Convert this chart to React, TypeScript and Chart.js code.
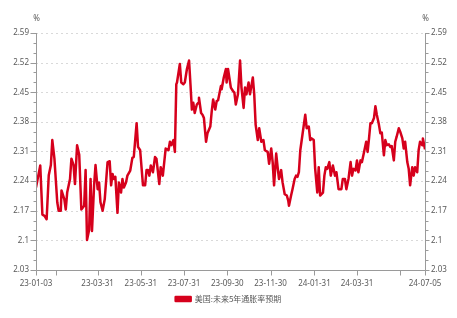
import React, { useEffect, useRef } from "react";
import { Chart, registerables } from "chart.js";
Chart.register(...registerables);

const seriesName = "美国:未来5年通胀率预期";
const unitLabel = "%";

const dates = [
  "23-01-03","23-01-09","23-01-12","23-01-15","23-01-18","23-01-21","23-01-24","23-01-26","23-01-29",
  "23-02-02","23-02-04","23-02-07","23-02-08","23-02-12","23-02-14","23-02-16","23-02-20","23-02-22","23-02-25","23-02-27",
  "23-03-02","23-03-05","23-03-08","23-03-12","23-03-14","23-03-16","23-03-19","23-03-21","23-03-23","23-03-26","23-03-28","23-03-31",
  "23-04-02","23-04-04","23-04-07","23-04-10","23-04-14","23-04-17","23-04-19","23-04-21","23-04-23","23-04-25","23-04-28","23-04-30",
  "23-05-03","23-05-05","23-05-07","23-05-10","23-05-12","23-05-16","23-05-19","23-05-21","23-05-25","23-05-27","23-05-30",
  "23-06-03","23-06-06","23-06-08","23-06-10","23-06-12","23-06-14","23-06-17","23-06-20","23-06-22","23-06-26","23-06-28",
  "23-07-01","23-07-05","23-07-09","23-07-11","23-07-13","23-07-16","23-07-18","23-07-20","23-07-21","23-07-25","23-07-27","23-07-30",
  "23-08-01","23-08-04","23-08-07","23-08-09","23-08-11","23-08-13","23-08-15","23-08-18","23-08-20","23-08-21","23-08-24","23-08-26","23-08-28","23-08-31",
  "23-09-02","23-09-06","23-09-08","23-09-10","23-09-13","23-09-15","23-09-17","23-09-21","23-09-22","23-09-25","23-09-28","23-09-29",
  "23-10-01","23-10-05","23-10-08","23-10-10","23-10-12","23-10-15","23-10-18","23-10-20","23-10-23","23-10-25","23-10-27","23-10-30",
  "23-11-01","23-11-05","23-11-07","23-11-09","23-11-12","23-11-14","23-11-17","23-11-20","23-11-22","23-11-26","23-11-28",
  "23-12-01","23-12-03","23-12-05","23-12-08","23-12-10","23-12-12","23-12-15","23-12-17","23-12-20","23-12-23","23-12-25","23-12-26","23-12-29","23-12-31",
  "24-01-03","24-01-05","24-01-07","24-01-09","24-01-11","24-01-14","24-01-18","24-01-20","24-01-23","24-01-25","24-01-27","24-01-30",
  "24-02-01","24-02-04","24-02-06","24-02-08","24-02-12","24-02-14","24-02-16","24-02-18","24-02-21","24-02-23","24-02-26","24-02-29",
  "24-03-02","24-03-05","24-03-09","24-03-11","24-03-14","24-03-16","24-03-19","24-03-22","24-03-24","24-03-26","24-03-29","24-03-31",
  "24-04-02","24-04-05","24-04-07","24-04-10","24-04-13","24-04-15","24-04-17","24-04-19","24-04-21","24-04-24","24-04-26","24-04-28",
  "24-05-01","24-05-03","24-05-05","24-05-08","24-05-10","24-05-12","24-05-15","24-05-17","24-05-19","24-05-22","24-05-24","24-05-26","24-05-29","24-05-31",
  "24-06-03","24-06-05","24-06-07","24-06-10","24-06-12","24-06-14","24-06-17","24-06-19","24-06-21","24-06-24","24-06-26","24-06-28",
  "24-07-01","24-07-02","24-07-05"
];

const values = [
  2.225,2.277,2.161,2.158,2.150,2.254,2.278,2.337,2.293,
  2.190,2.170,2.170,2.218,2.197,2.173,2.213,2.245,2.293,2.278,2.233,
  2.325,2.302,2.173,2.182,2.266,2.101,2.125,2.245,2.122,2.230,2.278,2.221,
  2.237,2.190,2.170,2.197,2.285,2.287,2.230,2.257,2.245,2.250,2.165,2.237,
  2.213,2.245,2.225,2.237,2.253,2.265,2.295,2.297,2.377,2.321,2.313,
  2.230,2.230,2.266,2.266,2.253,2.277,2.261,2.297,2.293,2.233,2.273,
  2.253,2.317,2.313,2.333,2.325,2.337,2.309,2.469,2.473,2.517,2.473,2.469,
  2.473,2.505,2.525,2.469,2.409,2.425,2.401,2.421,2.425,2.437,2.401,2.397,2.389,2.333,
  2.353,2.369,2.405,2.433,2.409,2.429,2.431,2.465,2.457,2.485,2.505,2.473,
  2.505,2.461,2.453,2.449,2.421,2.445,2.525,2.461,2.413,2.461,2.445,2.473,
  2.445,2.485,2.445,2.373,2.337,2.365,2.333,2.337,2.313,2.309,2.281,
  2.317,2.285,2.230,2.305,2.273,2.245,2.266,2.237,2.209,2.206,2.194,2.182,2.206,2.221,
  2.245,2.253,2.250,2.261,2.313,2.349,2.397,2.365,2.369,2.337,2.341,2.337,
  2.269,2.213,2.273,2.206,2.213,2.253,2.273,2.269,2.285,2.253,2.277,2.253,
  2.261,2.221,2.221,2.245,2.245,2.221,2.245,2.285,2.253,2.269,2.265,2.289,
  2.261,2.289,2.285,2.309,2.333,2.309,2.341,2.377,2.377,2.389,2.417,2.397,
  2.373,2.353,2.355,2.301,2.337,2.325,2.327,2.321,2.323,2.289,2.333,2.345,2.365,2.357,
  2.341,2.317,2.333,2.285,2.269,2.230,2.273,2.253,2.273,2.261,2.313,2.333,
  2.325,2.341,2.315
];

const xTickDates = ["23-01-03","23-01-31","23-03-31","23-05-31","23-07-31","23-09-30","23-11-30","24-01-31","24-03-31","24-05-31","24-07-05"];
const xTickShown = [true,false,true,true,true,true,true,true,true,false,true];
const yTicks = [2.03, 2.1, 2.17, 2.24, 2.31, 2.38, 2.45, 2.52, 2.59];
const yMinorSteps = 3;

const startDate = dates[0];
function toDay(s: string): number {
  const p = s.split("-").map(Number);
  const q = startDate.split("-").map(Number);
  return (Date.UTC(2000 + p[0], p[1] - 1, p[2]) - Date.UTC(2000 + q[0], q[1] - 1, q[2])) / 86400000;
}

const TEXT = "#595959";
const AXIS = "#9a9a9a";
const GRID = "#d9d9d9";
const LINE = "#d6001c";
const FONT = "'Noto Sans', 'Noto Sans CJK SC', sans-serif";

const decor = {
  id: "decor",
  beforeDatasetsDraw(chart: any) {
    const { ctx, chartArea } = chart;
    const y = chart.scales.y;
    ctx.save();
    ctx.strokeStyle = GRID;
    ctx.lineWidth = 1;
    ctx.setLineDash([2, 3]);
    yTicks.forEach((v, i) => {
      if (i === 0) return;
      const py = Math.round(y.getPixelForValue(v)) + 0.5;
      ctx.beginPath();
      ctx.moveTo(chartArea.left, py);
      ctx.lineTo(chartArea.right, py);
      ctx.stroke();
    });
    ctx.restore();
  },
  afterDatasetsDraw(chart: any) {
    const { ctx, chartArea } = chart;
    const y = chart.scales.y;
    const x = chart.scales.x;
    const L = Math.round(chartArea.left) + 0.5;
    const R = Math.round(chartArea.right) + 0.5;
    const B = Math.round(chartArea.bottom) + 0.5;
    ctx.save();
    ctx.strokeStyle = AXIS;
    ctx.lineWidth = 1;
    ctx.beginPath();
    ctx.moveTo(L, chartArea.top); ctx.lineTo(L, B);
    ctx.moveTo(R, chartArea.top); ctx.lineTo(R, B);
    ctx.moveTo(L, B); ctx.lineTo(R, B);
    for (let i = 0; i < yTicks.length; i++) {
      const py = Math.round(y.getPixelForValue(yTicks[i])) + 0.5;
      ctx.moveTo(L - 6, py); ctx.lineTo(L, py);
      ctx.moveTo(R, py); ctx.lineTo(R + 4, py);
      if (i < yTicks.length - 1) {
        for (let k = 1; k < yMinorSteps; k++) {
          const v = yTicks[i] + ((yTicks[i + 1] - yTicks[i]) * k) / yMinorSteps;
          const my = Math.round(y.getPixelForValue(v)) + 0.5;
          ctx.moveTo(L - 3, my); ctx.lineTo(L, my);
          ctx.moveTo(R, my); ctx.lineTo(R + 3, my);
        }
      }
    }
    xTickDates.forEach((d) => {
      const px = Math.round(x.getPixelForValue(toDay(d))) + 0.5;
      ctx.moveTo(px, B); ctx.lineTo(px, B + 5);
    });
    ctx.stroke();
    ctx.fillStyle = TEXT;
    ctx.font = `8px ${FONT}`;
    ctx.textAlign = "center";
    ctx.textBaseline = "middle";
    ctx.fillText(unitLabel, L, chartArea.top - 14);
    ctx.fillText(unitLabel, R, chartArea.top - 14);
    ctx.restore();
  },
};

export default function App() {
  const ref = useRef<HTMLCanvasElement | null>(null);
  useEffect(() => {
    if (!ref.current) return;
    const pts = dates.map((d, i) => ({ x: toDay(d), y: values[i] }));
    const yScale = (pos: "left" | "right", width: number) => ({
      type: "linear" as const,
      position: pos,
      min: yTicks[0],
      max: yTicks[yTicks.length - 1],
      grid: { display: false, drawTicks: false },
      border: { display: false },
      afterBuildTicks: (s: any) => { s.ticks = yTicks.map((v) => ({ value: v })); },
      afterFit: (s: any) => { s.width = width; },
      ticks: {
        color: TEXT,
        font: { size: 8, family: FONT },
        padding: pos === "left" ? 7 : 6,
        callback: (v: any) => String(v),
      },
    });
    const chart = new Chart(ref.current, {
      type: "line",
      data: {
        datasets: [
          {
            label: seriesName,
            data: pts,
            borderColor: LINE,
            backgroundColor: LINE,
            borderWidth: 2.5,
            pointRadius: 0,
            tension: 0,
            borderJoinStyle: "round",
          },
        ],
      },
      options: {
        animation: false,
        responsive: false,
        parsing: false as any,
        layout: { padding: { top: 33, left: 0, right: 0, bottom: 5 } },
        scales: {
          x: {
            type: "linear",
            min: 0,
            max: toDay(xTickDates[xTickDates.length - 1]),
            grid: { display: false, drawTicks: false },
            border: { display: false },
            afterBuildTicks: (s: any) => { s.ticks = xTickDates.map((d) => ({ value: toDay(d) })); },
            afterFit: (s: any) => { s.height = 19; },
            ticks: {
              autoSkip: false,
              maxRotation: 0,
              color: TEXT,
              font: { size: 8, family: FONT },
              padding: 9,
              callback: (_v: any, i: number) => (xTickShown[i] ? xTickDates[i] : ""),
            },
          },
          y: yScale("left", 36),
          y2: yScale("right", 32),
        },
        plugins: {
          legend: {
            display: true,
            position: "bottom",
            labels: {
              color: TEXT,
              font: { size: 8, family: "'Noto Sans CJK SC', sans-serif" },
              boxWidth: 15,
              boxHeight: 4,
              padding: 6,
            },
          },
          tooltip: { enabled: false },
        },
      },
      plugins: [decor],
    });
    return () => chart.destroy();
  }, []);
  return (
    <div style={{ position: "fixed", left: 0, top: 0, width: 457, height: 318, background: "#fff" }}>
      <canvas ref={ref} width={457} height={318} style={{ display: "block" }} />
    </div>
  );
}
